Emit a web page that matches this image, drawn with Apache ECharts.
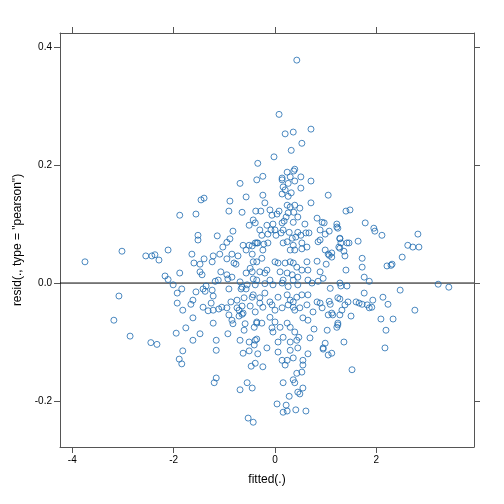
<!DOCTYPE html>
<html><head><meta charset="utf-8">
<script src="https://cdn.jsdelivr.net/npm/echarts@6/dist/echarts.min.js"></script>
<style>html,body{margin:0;padding:0;background:#fff}#c{width:504px;height:504px}</style>
</head><body><div id="c"></div>
<script>
const xTicks = [-4, -2, 0, 2];
const yTicks = [-0.2, 0, 0.2, 0.4];
const fitted = [
-3.75,-3.02,-2.55,-2.43,-2.37,-2.29,-2.11,-2.17,-2.11,-2.01,-1.88,-1.56,-1.46,-1.40,-1.52,-1.52,-1.88,-1.64,-1.60,-1.48,-1.40,-1.48,-1.44,-1.24,-1.22,-1.14,-1.03,-0.95,-0.89,-0.83,-1.09,-0.95,-0.85,-0.73,-0.81,-0.77,-1.07,-0.95,-0.93,-0.85,-1.18,-1.12,-0.89,-0.91,-0.69,-0.57,-0.65,-0.36,-0.34,-0.38,-0.39,-0.51,-0.43,-0.63,-0.51,-0.45,-0.36,-0.57,-0.45,-0.43,-0.36,-0.57,-0.45,-0.43,-0.69,-0.65,-0.36,
-3.08,-1.93,-1.84,-1.56,-1.42,-1.38,-1.24,-1.22,
-3.18,-2.86,-2.45,-2.33,-1.93,-1.82,-1.66,-1.62,-1.62,-1.76,-1.95,-1.62,-1.48,-1.82,-1.89,-1.84,-1.42,-1.32,-1.22,-1.26,-1.36,-1.22,-1.16,-1.16,-1.16,-1.20,-1.11,-1.05,-0.95,-0.87,-0.75,-0.61,-0.65,-0.75,-0.71,-0.91,-0.65,-0.85,-0.83,-0.71,-0.59,-0.61,-0.93,-0.69,-0.63,-0.51,-0.51,-0.41,-0.39,-0.47,-0.55,-0.69,-0.45,-0.53,-0.43,-0.91,-0.67,-0.57,-0.45,-0.49,-0.39,-0.36,-0.41,-0.36,
0.43,0.08,0.20,0.36,0.71,0.53,0.32,-0.02,-0.24,0.39,0.37,0.24,0.14,0.14,0.30,0.51,0.26,0.39,0.71,0.16,0.20,0.32,0.14,0.26,0.51,-0.24,1.05,-0.20,0.71,-0.28,-0.10,0.08,0.24,0.30,0.39,0.49,0.37,0.26,-0.06,0.04,0.22,0.45,0.83,0.93,0.97,1.22,-0.30,-0.16,-0.04,0.14,0.18,0.36,0.59,-0.26,-0.14,0.00,-0.08,0.02,0.12,0.16,0.28,0.45,0.51,0.61,0.67,0.89,1.07,1.22,-0.39,-0.34,-0.22,-0.14,-0.24,0.16,0.24,0.34,0.41,0.36,0.30,0.39,0.53,0.53,0.63,0.85,0.89,0.99,1.05,1.12,1.28,1.26,-0.26,-0.16,-0.49,-0.30,-0.20,0.00,0.06,0.20,0.30,0.36,0.43,0.53,0.63,0.65,0.83,0.89,1.01,0.95,0.10,0.24,0.34,0.45,-0.10,0.16,0.36,0.65,0.85,
-0.55,-0.39,-0.20,-0.04,0.14,0.26,0.45,0.73,1.09,1.28,-0.43,-0.30,-0.20,-0.10,0.06,0.24,0.30,0.36,0.43,0.53,0.65,0.83,0.89,0.93,1.07,1.09,1.12,1.24,-0.63,-0.30,-0.24,-0.06,0.00,0.14,0.26,0.36,0.39,0.49,0.63,0.75,1.05,1.14,1.24,-0.36,-0.26,-0.10,-0.06,0.00,0.10,0.24,0.30,0.39,0.47,0.55,0.65,0.77,1.03,-0.39,-0.16,-0.04,0.06,0.16,0.30,0.43,0.45,0.69,0.95,0.99,1.05,1.12,-0.34,0.06,0.30,0.65,0.14,0.24,0.36,0.55,-0.24,0.20,0.55,0.43,0.53,0.36,0.39,0.16,0.55,0.45,0.49,0.28,0.04,0.22,0.16,0.24,0.41,0.61,
1.40,1.48,1.24,1.78,1.95,1.97,2.11,2.82,0.99,1.28,1.30,1.42,1.46,1.64,1.28,1.36,1.38,1.07,1.12,1.72,1.72,1.40,1.76,1.86,2.21,2.29,2.31,2.51,2.62,2.72,2.84,3.22,3.43,1.30,1.42,2.47,1.76,2.13,1.93,2.23,1.28,1.60,1.66,1.72,1.82,1.86,1.91,1.44,1.38,1.32,1.50,1.28,2.76,2.09,2.33,1.24,1.22,2.19,1.36,0.95,2.17,1.52
];
const resid = [
0.036,0.054,0.046,0.046,0.048,0.039,0.056,0.012,0.006,-0.003,0.115,0.117,0.141,0.144,0.081,0.073,0.017,0.049,0.034,0.032,0.041,0.019,0.014,0.036,0.046,0.080,0.061,0.069,0.075,0.088,0.049,0.041,0.049,0.046,0.034,0.032,0.019,0.014,0.007,0.010,0.003,0.005,0.139,0.122,0.169,0.146,0.120,0.175,0.203,0.122,0.102,0.098,0.107,0.064,0.064,0.063,0.068,0.056,0.049,0.036,0.036,0.017,0.019,0.007,0.002,-0.007,0.005,
-0.022,-0.017,-0.010,-0.015,-0.010,-0.014,-0.012,-0.022,
-0.063,-0.090,-0.101,-0.104,-0.034,-0.046,-0.036,-0.029,-0.059,-0.076,-0.085,-0.097,-0.086,-0.115,-0.129,-0.137,-0.041,-0.047,-0.046,-0.034,-0.005,-0.068,-0.097,-0.114,-0.161,-0.169,-0.044,-0.041,-0.042,-0.032,-0.029,-0.025,-0.039,-0.042,-0.046,-0.054,-0.053,-0.063,-0.069,-0.056,-0.069,-0.080,-0.086,-0.097,-0.119,-0.100,-0.115,-0.105,-0.136,-0.141,-0.169,-0.181,-0.178,-0.229,-0.236,-0.010,-0.010,-0.010,-0.024,-0.039,-0.049,-0.068,-0.075,-0.095,
0.378,0.286,0.253,0.256,0.261,0.237,0.225,0.214,0.181,0.193,0.190,0.188,0.178,0.175,0.180,0.180,0.169,0.173,0.173,0.163,0.158,0.153,0.151,0.147,0.161,0.149,0.149,0.136,0.136,0.122,0.124,0.122,0.132,0.129,0.132,0.127,0.120,0.119,0.115,0.117,0.112,0.112,0.110,0.103,0.102,0.100,0.090,0.098,0.100,0.102,0.105,0.103,0.100,0.081,0.083,0.090,0.090,0.081,0.085,0.090,0.086,0.086,0.081,0.085,0.085,0.090,0.088,0.095,0.068,0.068,0.066,0.068,0.056,0.068,0.070,0.076,0.078,0.064,0.056,0.056,0.068,0.058,0.061,0.070,0.073,0.056,0.049,0.051,0.076,0.061,0.042,0.022,0.025,0.019,0.017,0.036,0.034,0.034,0.036,0.034,0.027,0.022,0.036,0.022,0.037,0.019,0.032,0.008,0.019,0.017,0.014,0.010,0.005,0.005,0.005,0.005,0.003,
-0.003,-0.003,-0.001,-0.003,0.000,-0.006,-0.003,0.000,-0.009,0.000,-0.020,-0.025,-0.017,-0.032,-0.024,-0.020,-0.029,-0.032,-0.024,-0.020,-0.020,-0.032,-0.034,-0.042,-0.031,-0.036,-0.051,-0.025,-0.051,-0.034,-0.041,-0.037,-0.046,-0.042,-0.037,-0.041,-0.046,-0.042,-0.037,-0.049,-0.054,-0.054,-0.068,-0.066,-0.068,-0.058,-0.076,-0.066,-0.075,-0.068,-0.075,-0.083,-0.092,-0.059,-0.063,-0.078,-0.080,-0.097,-0.110,-0.083,-0.100,-0.092,-0.100,-0.097,-0.110,-0.093,-0.110,-0.102,-0.122,-0.119,-0.120,-0.117,-0.114,-0.120,-0.131,-0.131,-0.127,-0.131,-0.142,-0.139,-0.139,-0.153,-0.151,-0.164,-0.169,-0.169,-0.178,-0.185,-0.188,-0.192,-0.205,-0.207,-0.219,-0.217,-0.215,-0.217,
0.122,0.124,0.093,0.102,0.093,0.088,0.081,0.083,0.083,0.075,0.068,0.068,0.068,0.071,0.059,0.054,0.046,0.047,0.044,0.042,0.027,0.022,0.010,0.003,0.029,0.030,0.032,0.044,0.064,0.061,0.061,-0.002,-0.007,-0.005,-0.005,-0.012,-0.017,-0.024,-0.029,-0.036,-0.027,-0.032,-0.034,-0.036,-0.037,-0.042,-0.041,-0.032,-0.037,-0.046,-0.056,-0.054,-0.046,-0.061,-0.061,-0.071,-0.075,-0.080,-0.100,-0.112,-0.110,-0.147
];
const X_MIN = -4.243, X_MAX = 3.927, Y_MIN = -0.278, Y_MAX = 0.424;
const n = Math.min(fitted.length, resid.length);
const pts = [];
for (let i = 0; i < n; i++) pts.push([fitted[i], resid[i]]);
const chart = echarts.init(document.getElementById('c'));
function mkAxis(pos, isX, ticks, labeled, extra) {
  const a = {
    type: 'value', position: pos,
    min: isX ? X_MIN : Y_MIN, max: isX ? X_MAX : Y_MAX,
    axisLine: {show: true, onZero: false, lineStyle: {color: '#555', width: 1}},
    axisTick: {show: true, inside: false, length: 6, customValues: ticks, lineStyle: {color: '#555'}},
    axisLabel: labeled ? {show: true, customValues: ticks, fontSize: 10, color: '#000', margin: 8,
      fontFamily: 'Liberation Sans', formatter: v => isX ? String(v) : (v === 0 ? '0.0' : v.toFixed(1))} : {show: false},
    splitLine: {show: false}
  };
  return Object.assign(a, extra || {});
}
const nameStyle = {fontSize: 12, color: '#000', fontFamily: 'Liberation Sans'};
chart.setOption({
  animation: false,
  grid: {left: 60, right: 30, top: 33, bottom: 57},
  xAxis: [
    mkAxis('bottom', true, xTicks, true, {name: 'fitted(.)', nameLocation: 'middle', nameGap: 27, nameTextStyle: nameStyle}),
    mkAxis('top', true, xTicks, false)
  ],
  yAxis: [
    mkAxis('left', false, yTicks, true, {name: 'resid(., type = "pearson")', nameLocation: 'middle', nameGap: 36, nameTextStyle: nameStyle}),
    mkAxis('right', false, yTicks, false)
  ],
  series: [
    {type: 'line', xAxisIndex: 0, yAxisIndex: 0, data: [[X_MIN, 0], [X_MAX, 0]], symbol: 'none',
      lineStyle: {color: '#000', width: 1}, silent: true, z: 1},
    {type: 'scatter', xAxisIndex: 0, yAxisIndex: 0, data: pts, symbol: 'circle', symbolSize: 6,
      itemStyle: {color: 'rgba(0,0,0,0)', borderColor: '#1f6cb0', borderWidth: 1}, z: 2}
  ]
});
</script></body></html>
